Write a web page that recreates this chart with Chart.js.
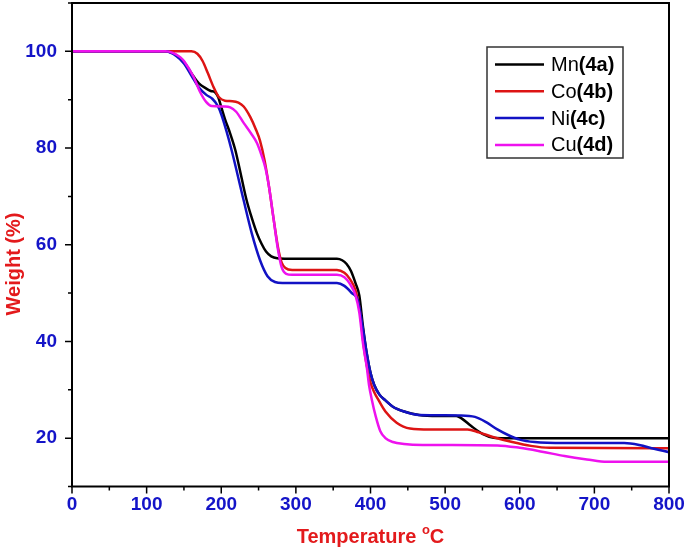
<!DOCTYPE html>
<html>
<head>
<meta charset="utf-8">
<script src="https://cdn.jsdelivr.net/npm/chart.js@4.4.0/dist/chart.umd.min.js"></script>
<style>
  body { margin: 0; background: #fff; }
  #wrap { width: 685px; height: 551px; }
</style>
</head>
<body>
<div id="wrap"><canvas id="tga"></canvas></div>
<script>
// TGA curves (temperature in °C, weight in %)
const metals = ["Mn", "Co", "Ni", "Cu"];
const codes = ["(4a)", "(4b)", "(4c)", "(4d)"];
const colors = ["#000000", "#dd1414", "#1212c4", "#ee12ee"];

const tempMn = [0, 125, 140, 150, 160, 170, 180, 186, 192, 196, 200, 205, 212, 219, 227, 234, 241, 248, 254, 260, 267, 275, 290, 355, 362, 368, 374, 380, 385, 390, 395, 400, 405, 412, 420, 430, 445, 465, 490, 515, 522, 535, 550, 565, 580, 800];
const wtMn   = [100, 100, 99.2, 97.8, 95.5, 93.4, 92.3, 91.8, 91.5, 90.5, 88.5, 86, 83, 79.5, 74, 69.2, 65.5, 62.3, 60.2, 58.6, 57.6, 57.2, 57.1, 57.1, 56.8, 56, 54.5, 52, 49.5, 43, 37.5, 33.5, 31, 29, 27.8, 26.5, 25.5, 24.8, 24.6, 24.6, 24.1, 22.5, 20.9, 20.1, 20, 20];

const tempCo = [0, 160, 168, 175, 182, 190, 197, 205, 215, 223, 230, 239, 246, 252, 258, 264, 270, 276, 281, 286, 295, 355, 365, 372, 380, 386, 391, 395, 400, 405, 411, 420, 435, 453, 480, 530, 545, 565, 590, 615, 640, 800];
const wtCo   = [100, 100, 99.5, 98, 95.5, 92.5, 90.5, 89.8, 89.7, 89.4, 88.6, 86.4, 84, 81.5, 77.5, 72, 65.5, 59.5, 56.3, 55.2, 54.8, 54.8, 54.2, 53, 50.5, 46, 39, 35, 31.5, 29.5, 27.8, 25.5, 23.2, 22, 21.8, 21.8, 21.2, 20.2, 19.2, 18.4, 18.0, 17.9];

const tempNi = [0, 125, 140, 150, 160, 170, 180, 188, 195, 200, 207, 214, 230, 241, 252, 262, 272, 282, 355, 365, 375, 383, 390, 395, 400, 405, 412, 420, 430, 445, 465, 520, 540, 555, 570, 585, 600, 620, 660, 740, 760, 780, 800];
const wtNi   = [100, 100, 99.0, 97.5, 95, 92.5, 91, 90.2, 88.8, 87, 83.5, 79.5, 69.2, 62.3, 56.8, 53.5, 52.3, 52.1, 52.1, 51.5, 50, 48.5, 42.5, 37.5, 33.5, 31, 29, 27.8, 26.5, 25.5, 24.8, 24.7, 24.4, 23.3, 21.8, 20.6, 19.7, 19.2, 19.0, 19.0, 18.6, 17.8, 17.1];

const tempCu = [0, 125, 135, 145, 150, 163, 172, 180, 187, 205, 212, 220, 230, 240, 248, 254, 259, 264, 270, 276, 281, 287, 295, 355, 365, 372, 380, 385, 390, 395, 398, 402, 407, 413, 420, 430, 445, 470, 570, 600, 630, 660, 690, 717, 800];
const wtCu   = [100, 100, 99.7, 98.8, 98, 94.7, 91.5, 89.5, 88.7, 88.6, 88.4, 87.5, 85.2, 83, 81, 78.5, 76, 72, 65.5, 59, 55.3, 54, 53.8, 53.8, 53.3, 52, 49.5, 46, 39.5, 34.7, 31, 27.8, 24.5, 21.5, 20, 19.2, 18.8, 18.6, 18.5, 18.0, 17.2, 16.3, 15.6, 15.1, 15.1];

const xTicks = [0, 100, 200, 300, 400, 500, 600, 700, 800];
const yTicks = [20, 40, 60, 80, 100];

const tickBlue = "#1414c8";
const titleRed = "#e31a1c";

const temps = [tempMn, tempCo, tempNi, tempCu];
const weights = [wtMn, wtCo, wtNi, wtCu];

// Cu drawn on top, Mn at the bottom
const drawOrder = [3, 2, 1, 0];

const datasets = metals.map((m, i) => ({
  label: m + codes[i],
  data: temps[i].map((t, j) => ({ x: t, y: weights[i][j] })),
  borderColor: colors[i],
  borderWidth: 2.5,
  pointRadius: 0,
  fill: false,
  cubicInterpolationMode: "monotone",
  order: drawOrder[i],
}));

const noPad = (s) => {
  s.paddingLeft = 0;
  s.paddingRight = 0;
  s.paddingTop = 0;
  s.paddingBottom = 0;
};

// frame, minor/major ticks, axis titles and the legend box
const decor = {
  id: "decor",
  afterDraw(chart) {
    const ctx = chart.ctx;
    const a = chart.chartArea;
    const xs = chart.scales.x;
    const ys = chart.scales.y;
    ctx.save();
    ctx.strokeStyle = "#000";
    ctx.lineWidth = 2;
    ctx.strokeRect(a.left, a.top, a.right - a.left, a.bottom - a.top);

    ctx.lineWidth = 1.5;
    ctx.beginPath();
    for (let v = 10; v <= 110; v += 10) {
      const y = ys.getPixelForValue(v);
      const len = v % 20 === 0 ? 7 : 4;
      ctx.moveTo(a.left, y);
      ctx.lineTo(a.left - len, y);
    }
    for (let v = 0; v <= 800; v += 50) {
      const x = xs.getPixelForValue(v);
      const len = v % 100 === 0 ? 7 : 4;
      ctx.moveTo(x, a.bottom);
      ctx.lineTo(x, a.bottom + len);
    }
    ctx.stroke();

    // axis titles
    ctx.fillStyle = titleRed;
    ctx.font = "bold 20px 'Liberation Sans', Arial, sans-serif";
    ctx.textBaseline = "alphabetic";
    ctx.save();
    ctx.translate(20, 264);
    ctx.rotate(-Math.PI / 2);
    ctx.textAlign = "center";
    ctx.fillText("Weight (%)", 0, 0);
    ctx.restore();

    const main = "Temperature ";
    const wMain = ctx.measureText(main).width;
    ctx.font = "bold 13px 'Liberation Sans', Arial, sans-serif";
    const wO = ctx.measureText("o").width;
    ctx.font = "bold 20px 'Liberation Sans', Arial, sans-serif";
    const wC = ctx.measureText("C").width;
    let tx = (a.left + a.right) / 2 - (wMain + wO + wC) / 2;
    const ty = 543;
    ctx.textAlign = "left";
    ctx.fillText(main, tx, ty);
    tx += wMain;
    ctx.font = "bold 13px 'Liberation Sans', Arial, sans-serif";
    ctx.fillText("o", tx, ty - 9);
    tx += wO;
    ctx.font = "bold 20px 'Liberation Sans', Arial, sans-serif";
    ctx.fillText("C", tx, ty);

    // legend
    ctx.strokeStyle = "#333";
    ctx.lineWidth = 1.5;
    ctx.strokeRect(487, 47, 136, 111);
    ctx.textBaseline = "middle";
    chart.data.datasets.forEach((ds, i) => {
      const y = 64.5 + i * 26.8;
      ctx.strokeStyle = ds.borderColor;
      ctx.lineWidth = 2.5;
      ctx.beginPath();
      ctx.moveTo(495, y);
      ctx.lineTo(544, y);
      ctx.stroke();
      ctx.fillStyle = "#000";
      ctx.font = "20px 'Liberation Sans', Arial, sans-serif";
      ctx.fillText(metals[i], 551, y + 1);
      const w = ctx.measureText(metals[i]).width;
      ctx.font = "bold 20px 'Liberation Sans', Arial, sans-serif";
      ctx.fillText(codes[i], 551 + w, y + 1);
    });
    ctx.restore();
  },
};

new Chart(document.getElementById("tga"), {
  type: "line",
  data: { datasets: datasets },
  options: {
    responsive: true,
    maintainAspectRatio: false,
    animation: false,
    layout: { padding: { top: 3, right: 16, left: 0, bottom: 0 } },
    plugins: {
      legend: { display: false },
      tooltip: { enabled: false },
    },
    scales: {
      x: {
        type: "linear",
        min: 0,
        max: 800,
        afterBuildTicks: (s) => { s.ticks = xTicks.map((v) => ({ value: v })); },
        afterFit: (s) => { s.height = 64.5; noPad(s); },
        grid: { display: false, drawTicks: false },
        border: { display: false },
        ticks: {
          color: tickBlue,
          padding: 7,
          maxRotation: 0,
          font: { family: "'Liberation Sans', Arial, sans-serif", size: 19, weight: "bold" },
        },
      },
      y: {
        type: "linear",
        min: 10,
        max: 110,
        afterBuildTicks: (s) => { s.ticks = yTicks.map((v) => ({ value: v })); },
        afterFit: (s) => { s.width = 72; noPad(s); },
        grid: { display: false, drawTicks: false },
        border: { display: false },
        ticks: {
          color: tickBlue,
          padding: 15,
          font: { family: "'Liberation Sans', Arial, sans-serif", size: 19, weight: "bold" },
        },
      },
    },
  },
  plugins: [decor],
});
</script>
</body>
</html>
